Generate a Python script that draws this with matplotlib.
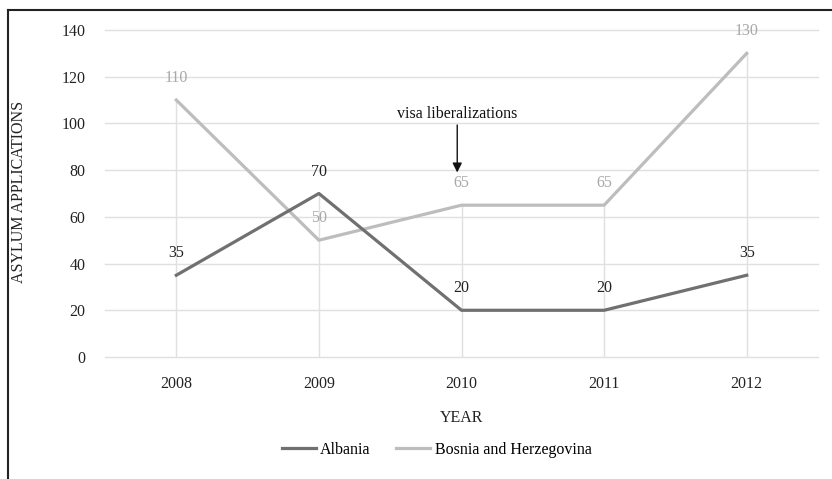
import matplotlib
matplotlib.use("Agg")
import matplotlib.pyplot as plt
from matplotlib.lines import Line2D

years = [2008, 2009, 2010, 2011, 2012]
albania = [35, 70, 20, 20, 35]
bosnia = [110, 50, 65, 65, 130]
y_ticks = [0, 20, 40, 60, 80, 100, 120, 140]

plt.rcParams["font.family"] = ["Liberation Serif", "DejaVu Serif"]

alb_color = "#707070"
bos_color = "#bdbdbd"
grid_color = "#e0e0e0"
text_color = "#222222"
fs = 11.5

fig = plt.figure(figsize=(8.32, 4.79), dpi=100)
ax = fig.add_axes([0.1262, 0.2547, 0.8570, 0.6827])

ax.set_xlim(years[0] - 0.5, years[-1] + 0.5)
ax.set_ylim(0, 140)
ax.set_yticks(y_ticks)
ax.set_xticks(years)
ax.set_xticklabels([str(y) for y in years])
for y in y_ticks:
    ax.axhline(y, color=grid_color, lw=1, zorder=0, clip_on=False)

# drop lines from the higher series value down to zero
tops = [max(a, b) for a, b in zip(albania, bosnia)]
ax.vlines(years, 0, tops, color=grid_color, lw=1, zorder=0)

ax.plot(years, albania, color=alb_color, lw=2.3, zorder=3)
ax.plot(years, bosnia, color=bos_color, lw=2.3, zorder=2)

for x, v in zip(years, albania):
    ax.annotate(str(v), (x, v), xytext=(0, 10), textcoords="offset points",
                ha="center", va="bottom", fontsize=fs, color=text_color)
for x, v in zip(years, bosnia):
    ax.annotate(str(v), (x, v), xytext=(0, 10), textcoords="offset points",
                ha="center", va="bottom", fontsize=fs, color="#a8a8a8")

ax.annotate("visa liberalizations", xy=(2009.97, 79), xytext=(2009.97, 100.5),
            ha="center", va="bottom", fontsize=fs, color="#111111",
            arrowprops=dict(arrowstyle="-|>", color="#111111", lw=1,
                            mutation_scale=14, shrinkA=0, shrinkB=0))

for s in ax.spines.values():
    s.set_visible(False)
ax.tick_params(length=0, labelsize=fs, colors=text_color)
ax.tick_params(axis="x", pad=14)
ax.tick_params(axis="y", pad=14)

ax.set_xlabel("YEAR", fontsize=fs, color=text_color, labelpad=13)
ax.set_ylabel("ASYLUM APPLICATIONS", fontsize=fs, color=text_color)
ax.yaxis.set_label_coords(-(105 - 27) / (818 - 105), (357 - 192) / (357 - 30))

handles = [Line2D([], [], color=alb_color, lw=2.3),
           Line2D([], [], color=bos_color, lw=2.3)]
fig.legend(handles, ["Albania", "Bosnia and Herzegovina"], loc="center",
           bbox_to_anchor=(0.525, 1 - 450 / 479), ncol=2, frameon=False,
           fontsize=fs, handlelength=2.1, handletextpad=0.3, columnspacing=1.6)

# outer frame: top and left edges
fig.add_artist(Line2D([8 / 832, 1], [1 - 10 / 479, 1 - 10 / 479],
                      transform=fig.transFigure, color=text_color, lw=1.5))
fig.add_artist(Line2D([8 / 832, 8 / 832], [0, 1 - 10 / 479],
                      transform=fig.transFigure, color=text_color, lw=1.5))

fig.savefig("out.png", dpi=100)
